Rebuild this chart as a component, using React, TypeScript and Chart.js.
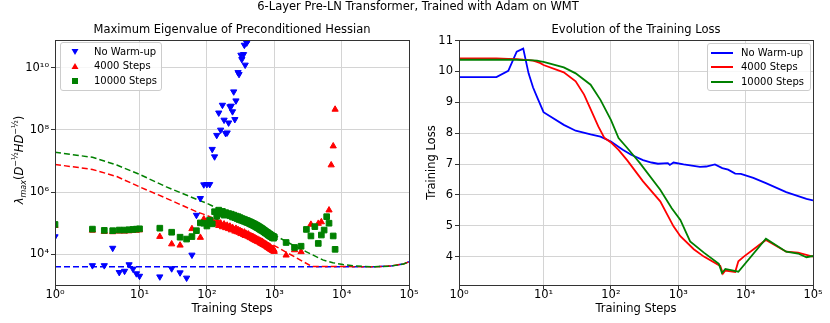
import React, { useEffect, useRef } from 'react';
import { Chart, registerables, LogarithmicScale } from 'chart.js';

Chart.register(...registerables);

// ---------- symlog x scale (base 10, linthresh 2, linscale 1) ----------
const LINTHRESH = 2;
const LINSCALE_ADJ = 1 / (1 - 1 / 10);
function symT(v: number): number {
  return v <= LINTHRESH ? v * LINSCALE_ADJ : LINTHRESH * (LINSCALE_ADJ + Math.log10(v / LINTHRESH));
}
function symInv(t: number): number {
  const lim = LINTHRESH * LINSCALE_ADJ;
  return t <= lim ? t / LINSCALE_ADJ : LINTHRESH * Math.pow(10, t / LINTHRESH - LINSCALE_ADJ);
}
class SymlogScale extends LogarithmicScale {
  static id = 'symlog';
  getPixelForValue(value: any) {
    if (value === null || value === undefined || isNaN(value)) return NaN;
    const t0 = symT(this.min);
    const t1 = symT(this.max);
    return this.getPixelForDecimal((symT(value) - t0) / (t1 - t0));
  }
  getValueForPixel(pixel: number) {
    const d = this.getDecimalForPixel(pixel);
    const t0 = symT(this.min);
    const t1 = symT(this.max);
    return symInv(t0 + d * (t1 - t0));
  }
}
Chart.register(SymlogScale as any);

// ---------- data ----------
const xTickValues = [1, 10, 100, 1000, 10000, 100000];
const eigTickValues = [1e4, 1e6, 1e8, 1e10];
const lossTickValues = [4, 5, 6, 7, 8, 9, 10, 11];

const firstSteps = [1, 2, 3, 4, 5, 6, 7, 8, 9, 10];
const denseSteps = [
  110, 120, 130, 140, 150, 160, 170, 180, 190, 200,
  210, 220, 230, 240, 250, 260, 270, 280, 290, 300,
  310, 320, 330, 340, 350, 360, 370, 380, 390, 400,
  410, 420, 430, 440, 450, 460, 470, 480, 490, 500,
  510, 520, 530, 540, 550, 560, 570, 580, 590, 600,
  610, 620, 630, 640, 650, 660, 670, 680, 690, 700,
  710, 720, 730, 740, 750, 760, 770, 780, 790, 800,
  810, 820, 830, 840, 850, 860, 870, 880, 890, 900,
  910, 920, 930, 940, 950, 960, 970, 980, 990, 1000,
];

// Max eigenvalue (log10) - No warm-up
const blueEigSteps = [...firstSteps, 20, 30, 40, 50, 60, 70, 80, 90, 100, 110, 120, 130, 140, 150, 160, 170, 180, 190, 200,
  210, 220, 230, 240, 250, 260, 270, 290, 300, 320, 330, 350, 360, 370, 390, 410];
const blueEigLog = [4.57, 3.64, 3.64, 4.20, 3.42, 3.46, 3.67, 3.53, 3.38, 3.30,
  3.28, 3.54, 3.41, 3.24, 3.98, 5.26, 5.80, 6.24, 6.25, 6.25, 7.38, 7.14, 7.83, 8.55, 8.00, 8.80, 8.32, 7.89, 7.91,
  8.23, 8.75, 8.77, 8.59, 9.23, 8.34, 8.94, 9.85, 9.79, 10.41, 10.27, 10.43, 10.73, 10.09, 10.80, 10.88];

// 4000 warm-up steps
const redEigSteps = [...firstSteps, 20, 30, 40, 60, 80, 90, 100, ...denseSteps,
  1500, 2000, 2500, 3500, 4500, 5000, 6500, 7000, 7500, 8000];
const redEigLog = [4.92, 4.77, 4.73, 4.72, 4.74, 4.74, 4.75, 4.76, 4.77, 4.78,
  4.57, 4.33, 4.29, 4.82, 4.54, 5.13, 5.05,
  5.02, 5.08, 4.97, 5.05, 4.92, 5.00, 4.88, 4.97, 4.85, 4.93,
  4.82, 4.90, 4.78, 4.86, 4.80, 4.74, 4.83, 4.72, 4.79, 4.70,
  4.76, 4.66, 4.73, 4.68, 4.63, 4.71, 4.60, 4.67, 4.62, 4.58,
  4.65, 4.56, 4.61, 4.53, 4.59, 4.55, 4.50, 4.57, 4.48, 4.54,
  4.46, 4.52, 4.44, 4.50, 4.47, 4.41, 4.48, 4.43, 4.39, 4.45,
  4.40, 4.36, 4.43, 4.38, 4.34, 4.41, 4.35, 4.31, 4.38, 4.33,
  4.29, 4.35, 4.30, 4.27, 4.33, 4.26, 4.31, 4.24, 4.28, 4.22,
  4.27, 4.21, 4.25, 4.19, 4.24, 4.18, 4.22, 4.16, 4.21, 4.15,
  4.19, 4.14, 4.18, 4.12, 4.17, 4.11, 4.15, 4.10, 4.14, 4.09,
  3.97, 4.14, 4.08, 4.96, 4.99, 5.04, 5.42, 6.87, 7.48, 8.66];

// 10000 warm-up steps
const greenEigSteps = [...firstSteps, 20, 30, 40, 50, 60, 70, 80, 90, 100, ...denseSteps,
  1500, 2000, 2500, 3000, 3500, 4000, 4500, 5000, 5500, 6000, 6500, 7500, 8000];
const greenEigLog = [4.96, 4.81, 4.77, 4.76, 4.78, 4.78, 4.79, 4.80, 4.81, 4.82,
  4.84, 4.71, 4.55, 4.49, 4.57, 4.76, 5.01, 5.00, 4.91,
  5.10, 4.98, 5.37, 5.22, 5.42, 5.30, 5.38, 5.26, 5.34, 5.28,
  5.31, 5.24, 5.29, 5.20, 5.26, 5.18, 5.23, 5.15, 5.21, 5.12,
  5.18, 5.10, 5.15, 5.08, 5.13, 5.06, 5.11, 5.04, 5.09, 5.02,
  5.07, 5.00, 5.05, 4.98, 5.03, 4.96, 5.01, 4.94, 4.99, 4.92,
  4.97, 4.90, 4.95, 4.88, 4.93, 4.86, 4.91, 4.84, 4.89, 4.82,
  4.87, 4.80, 4.85, 4.78, 4.83, 4.77, 4.81, 4.75, 4.79, 4.73,
  4.77, 4.71, 4.75, 4.69, 4.73, 4.68, 4.71, 4.66, 4.70, 4.64,
  4.68, 4.62, 4.66, 4.61, 4.65, 4.59, 4.63, 4.58, 4.62, 4.57,
  4.60, 4.55, 4.59, 4.54, 4.58, 4.53, 4.57, 4.52, 4.56, 4.55,
  4.38, 4.22, 4.26, 4.80, 4.59, 4.89, 4.35, 4.62, 4.78, 5.21, 5.00, 4.59, 4.16];

// dashed reference curves (log10)
const blueRefSteps = [1, 30000, 53000, 83000, 100000];
const blueRefLog = [3.60, 3.60, 3.62, 3.69, 3.76];
const redRefSteps = [1, 2, 4.6, 10, 25, 70, 100, 300, 1000, 2000, 3600, 30000, 53000, 83000, 100000];
const redRefLog = [6.89, 6.73, 6.50, 6.17, 5.80, 5.37, 5.25, 4.80, 4.28, 3.92, 3.61, 3.60, 3.62, 3.69, 3.76];
const greenRefSteps = [1, 2, 4.6, 10, 25, 70, 100, 300, 1000, 2000, 3000, 5250, 7400, 10500, 16500, 30000, 53000, 83000, 100000];
const greenRefLog = [7.28, 7.12, 6.87, 6.57, 6.17, 5.77, 5.64, 5.14, 4.62, 4.27, 4.08, 3.82, 3.73, 3.67, 3.62, 3.60, 3.62, 3.69, 3.76];

// training loss
const blueLossSteps = [...firstSteps, 20, 30, 50, 70, 100, 150, 200, 300, 400, 500, 700, 750, 850, 1200, 2100, 2600,
  3500, 4500, 5500, 7000, 8500, 13000, 20000, 40000, 80000, 100000];
const blueLoss = [9.82, 9.82, 10.02, 10.64, 10.74, 9.94, 9.48, 9.18, 8.92, 8.68,
  8.27, 8.08, 7.96, 7.89, 7.73, 7.46, 7.30, 7.13, 7.05, 7.01, 7.03, 6.97, 7.05, 6.99, 6.91, 6.92,
  6.99, 6.87, 6.82, 6.69, 6.68, 6.55, 6.38, 6.09, 5.87, 5.82];
const redLossSteps = [...firstSteps, 20, 30, 40, 50, 65, 80, 100, 130, 175, 300, 540, 850, 1075, 1700, 2400,
  4200, 4600, 5000, 7000, 7800, 9400, 20000, 40000, 60000, 100000];
const redLoss = [10.42, 10.42, 10.41, 10.40, 10.38, 10.37, 10.35, 10.31, 10.27, 10.21,
  9.97, 9.68, 9.25, 8.78, 8.22, 7.85, 7.70, 7.46, 7.12, 6.44, 5.79, 4.98, 4.66, 4.24, 4.00,
  3.70, 3.45, 3.55, 3.50, 3.85, 4.00, 4.54, 4.16, 4.13, 4.00];
const greenLossSteps = [...firstSteps, 20, 30, 50, 70, 100, 130, 175, 245, 270, 540, 800, 1075, 1500, 2400,
  4000, 4450, 5000, 7800, 20000, 40000, 60000, 80000, 100000];
const greenLoss = [10.38, 10.38, 10.38, 10.38, 10.37, 10.37, 10.36, 10.35, 10.33, 10.31,
  10.13, 9.94, 9.57, 9.08, 8.43, 7.84, 7.52, 7.14, 7.03, 6.17, 5.57, 5.19, 4.49, 4.13,
  3.77, 3.47, 3.60, 3.51, 4.58, 4.16, 4.10, 3.98, 4.02];

const BLUE = '#0000ff';
const RED = '#ff0000';
const GREEN = '#008000';
const FONT = "'DejaVu Sans', sans-serif";
const FS = 11.5;

const SUP: Record<string, string> = { '0': '⁰', '1': '¹', '2': '²', '3': '³', '4': '⁴', '5': '⁵', '6': '⁶', '7': '⁷', '8': '⁸', '9': '⁹' };
const powLabel = (v: number) => '10' + String(Math.round(Math.log10(v))).split('').map((c) => SUP[c]).join('');

const logPts = (xs: number[], ls: number[]) => xs.map((x, i) => ({ x, y: Math.pow(10, ls[i]) }));
const pts = (xs: number[], ys: number[]) => xs.map((x, i) => ({ x, y: ys[i] }));

const framePlugin = {
  id: 'frame',
  afterDatasetsDraw(chart: any) {
    const { ctx, chartArea: a } = chart;
    const L = Math.round(a.left), R = Math.round(a.right), T = Math.round(a.top), B = Math.round(a.bottom);
    ctx.save();
    ctx.strokeStyle = '#333';
    ctx.lineWidth = 1;
    ctx.strokeRect(L + 0.5, T + 0.5, R - L, B - T);
    ctx.restore();
  },
};

const gridOpts = { color: '#d4d4d4', lineWidth: 1, drawTicks: true, tickLength: 4, tickColor: '#333' };
const tickFont = { family: FONT, size: FS };

function xScale() {
  return {
    type: 'symlog',
    position: 'bottom',
    min: 1,
    max: 100000,
    afterBuildTicks: (s: any) => { s.ticks = xTickValues.map((v) => ({ value: v })); },
    afterFit: (s: any) => { s.height = 38; s.paddingLeft = 0; s.paddingRight = 0; },
    ticks: { callback: (v: any) => powLabel(Number(v)), color: '#000', font: tickFont, padding: -1, maxRotation: 0, autoSkip: false },
    grid: gridOpts,
    border: { display: false },
    title: { display: true, text: 'Training Steps', color: '#000', font: tickFont, padding: { top: 0, bottom: 7 } },
  };
}

function EigenChart() {
  const ref = useRef<HTMLCanvasElement>(null);
  useEffect(() => {
    const scatter = (label: string, data: any, color: string, style: string, rot: number, r: number) => ({
      label, data, showLine: false, pointStyle: style, pointRotation: rot, pointRadius: r,
      pointBackgroundColor: color, pointBorderColor: color, pointBorderWidth: 1, clip: 0,
    });
    const dashed = (label: string, data: any, color: string) => ({
      label, data, showLine: true, borderColor: color, borderWidth: 1.5, borderDash: [6, 3],
      pointRadius: 0, fill: false, clip: 0, tension: 0,
    });
    const chart = new Chart(ref.current as HTMLCanvasElement, {
      type: 'scatter',
      data: {
        datasets: [
          scatter('10000 Steps', logPts(greenEigSteps, greenEigLog), GREEN, 'rect', 0, 4),
          scatter('4000 Steps', logPts(redEigSteps, redEigLog), RED, 'triangle', 0, 3.6),
          scatter('No Warm-up', logPts(blueEigSteps, blueEigLog), BLUE, 'triangle', 180, 3.6),
          dashed('10000 ref', logPts(greenRefSteps, greenRefLog), GREEN),
          dashed('4000 ref', logPts(redRefSteps, redRefLog), RED),
          dashed('no warm-up ref', logPts(blueRefSteps, blueRefLog), BLUE),
        ] as any,
      },
      options: {
        animation: false,
        responsive: false,
        devicePixelRatio: 1,
        events: [],
        layout: { padding: { left: 0, right: 21, top: 0, bottom: 0 } },
        plugins: {
          legend: { display: false },
          tooltip: { enabled: false },
          title: {
            display: true, text: 'Maximum Eigenvalue of Preconditioned Hessian', fullSize: false,
            color: '#000', font: { family: FONT, size: FS, weight: 'normal' }, padding: { top: 23, bottom: 3.2 },
          },
        },
        scales: {
          x: xScale(),
          y: {
            type: 'logarithmic',
            min: 1030,
            max: 7.8e10,
            afterBuildTicks: (s: any) => { s.ticks = eigTickValues.map((v) => ({ value: v })); },
            afterFit: (s: any) => { s.width = 55; s.paddingTop = 0; s.paddingBottom = 0; },
            ticks: { callback: (v: any) => powLabel(Number(v)), color: '#000', font: tickFont, padding: 2, autoSkip: false },
            grid: gridOpts,
            border: { display: false },
          },
        },
      } as any,
      plugins: [framePlugin],
    });
    return () => chart.destroy();
  }, []);
  return <canvas ref={ref} width={430} height={323} style={{ position: 'absolute', left: 0, top: 0 }} />;
}

function LossChart() {
  const ref = useRef<HTMLCanvasElement>(null);
  useEffect(() => {
    const line = (label: string, data: any, color: string) => ({
      label, data, borderColor: color, backgroundColor: color, borderWidth: 1.8, pointRadius: 0, fill: false, clip: 0, tension: 0,
    });
    const chart = new Chart(ref.current as HTMLCanvasElement, {
      type: 'line',
      data: {
        datasets: [
          line('10000 Steps', pts(greenLossSteps, greenLoss), GREEN),
          line('4000 Steps', pts(redLossSteps, redLoss), RED),
          line('No Warm-up', pts(blueLossSteps, blueLoss), BLUE),
        ] as any,
      },
      options: {
        animation: false,
        responsive: false,
        devicePixelRatio: 1,
        events: [],
        layout: { padding: { left: 0, right: 17, top: 0, bottom: 0 } },
        plugins: {
          legend: { display: false },
          tooltip: { enabled: false },
          title: {
            display: true, text: 'Evolution of the Training Loss', fullSize: false,
            color: '#000', font: { family: FONT, size: FS, weight: 'normal' }, padding: { top: 23, bottom: 3.2 },
          },
        },
        scales: {
          x: xScale(),
          y: {
            type: 'linear',
            min: 3.08,
            max: 11.02,
            afterBuildTicks: (s: any) => { s.ticks = lossTickValues.map((v) => ({ value: v })); },
            afterFit: (s: any) => { s.width = 44; s.paddingTop = 0; s.paddingBottom = 0; },
            ticks: { callback: (v: any) => String(v), color: '#000', font: tickFont, padding: 2, autoSkip: false },
            grid: gridOpts,
            border: { display: false },
            title: { display: true, text: 'Training Loss', color: '#000', font: tickFont, padding: { top: 10, bottom: 0 } },
          },
        },
      } as any,
      plugins: [framePlugin],
    });
    return () => chart.destroy();
  }, []);
  return <canvas ref={ref} width={415} height={323} style={{ position: 'absolute', left: 415, top: 0 }} />;
}

const legendBox: React.CSSProperties = {
  position: 'absolute', boxSizing: 'border-box', border: '1px solid #cccccc', borderRadius: 3,
  background: 'rgba(255,255,255,0.8)', fontFamily: FONT, fontSize: 10, color: '#000',
};
const rowYs = [8.5, 23, 37.5];

function MarkerLegend() {
  const items = [
    { label: 'No Warm-up', shape: <polygon points="1.5,2 8.5,2 5,8" fill={BLUE} /> },
    { label: '4000 Steps', shape: <polygon points="5,2 8.5,8 1.5,8" fill={RED} /> },
    { label: '10000 Steps', shape: <rect x={2} y={2} width={6} height={6} fill={GREEN} /> },
  ];
  return (
    <div style={{ ...legendBox, left: 60, top: 42, width: 102, height: 49 }}>
      {items.map((it, i) => (
        <React.Fragment key={it.label}>
          <svg width={10} height={10} style={{ position: 'absolute', left: 9, top: rowYs[i] - 5 }}>{it.shape}</svg>
          <span style={{ position: 'absolute', left: 33, top: rowYs[i] - 7, lineHeight: '14px', whiteSpace: 'nowrap' }}>{it.label}</span>
        </React.Fragment>
      ))}
    </div>
  );
}

function LineLegend() {
  const items = [
    { label: 'No Warm-up', color: BLUE },
    { label: '4000 Steps', color: RED },
    { label: '10000 Steps', color: GREEN },
  ];
  return (
    <div style={{ ...legendBox, left: 707, top: 43, width: 104, height: 48 }}>
      {items.map((it, i) => (
        <React.Fragment key={it.label}>
          <div style={{ position: 'absolute', left: 3, top: rowYs[i] - 1, width: 22, height: 2, background: it.color }} />
          <span style={{ position: 'absolute', left: 33, top: rowYs[i] - 7, lineHeight: '14px', whiteSpace: 'nowrap' }}>{it.label}</span>
        </React.Fragment>
      ))}
    </div>
  );
}

export default function App() {
  return (
    <div style={{ position: 'fixed', left: 0, top: 0, width: 830, height: 323, background: '#fff', overflow: 'hidden', fontFamily: FONT, color: '#000' }}>
      <EigenChart />
      <LossChart />
      <div style={{ position: 'absolute', left: 3, top: 0, width: 830, textAlign: 'center', fontSize: FS, lineHeight: '13px', whiteSpace: 'nowrap' }}>
        6-Layer Pre-LN Transformer, Trained with Adam on WMT
      </div>
      <div style={{ position: 'absolute', left: 19 - 70, top: 160 - 9, width: 140, height: 18, lineHeight: '18px', transform: 'rotate(-90deg)', textAlign: 'center', fontSize: FS, whiteSpace: 'nowrap' }}>
        <i>λ</i><sub style={{ fontSize: 8, fontStyle: 'italic', lineHeight: 0 }}>max</sub>(<i>D</i><sup style={{ fontSize: 8, lineHeight: 0 }}>−½</sup><i>HD</i><sup style={{ fontSize: 8, lineHeight: 0 }}>−½</sup>)
      </div>
      <MarkerLegend />
      <LineLegend />
    </div>
  );
}
